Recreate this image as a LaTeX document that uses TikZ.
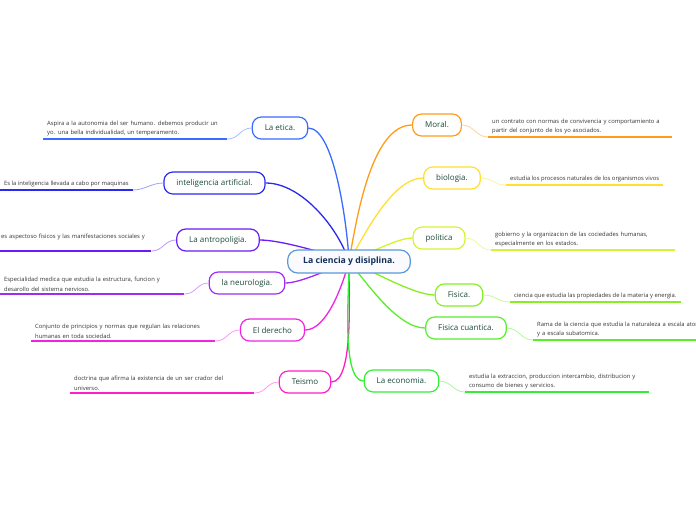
\documentclass[tikz,border=0pt]{standalone}
\usepackage{fontspec}
\setmainfont{Open Sans}
\usetikzlibrary{backgrounds}

\definecolor{topictext}{HTML}{1C4A3C}
\definecolor{desctext}{HTML}{333333}
\definecolor{centretext}{HTML}{12305A}
\definecolor{centreline}{HTML}{5A9AD6}
\definecolor{cetica}{HTML}{3A6CFF}
\definecolor{cia}{HTML}{2A2AEE}
\definecolor{cantro}{HTML}{6A1CF6}
\definecolor{cneuro}{HTML}{A02CF2}
\definecolor{cderecho}{HTML}{F024E0}
\definecolor{cteismo}{HTML}{FF1EC8}
\definecolor{cmoral}{HTML}{FF9C1A}
\definecolor{cbio}{HTML}{FFE030}
\definecolor{cpolitica}{HTML}{D6F236}
\definecolor{cfisica}{HTML}{86EE22}
\definecolor{ccuantica}{HTML}{58EE2A}
\definecolor{ceconomia}{HTML}{34EE34}

\tikzset{
  topic/.style={draw=#1, line width=1.2pt, rounded corners=9pt, fill=white,
    minimum height=22pt, inner xsep=12.5pt, text=topictext,
    font=\fontsize{8}{9}\selectfont},
  branch/.style={draw=#1, line width=1.3pt},
  twig/.style={draw=#1!45, line width=0.8pt},
  under/.style={draw=#1, line width=1.8pt},
  desc/.style={inner xsep=4pt, inner ysep=2.5pt, align=left, text=desctext,
    font=\fontsize{5.85}{9.4}\selectfont},
  longdesc/.style={desc, text width=176pt}
}

\begin{document}
\begin{tikzpicture}[x=1pt, y=1pt]
  \useasboundingbox (0,0) rectangle (696,-520);

  % central idea
  \node[draw=centreline, line width=1.2pt, rounded corners=10pt, fill=blue!2,
    minimum height=23pt, inner xsep=15.5pt, text=centretext,
    font=\fontsize{8.7}{10}\selectfont\bfseries] (ciencia) at (349,-261.5)
    {La ciencia y disiplina.};

  % left topics
  \node[topic=cetica] (etica) at (280,-128) {La etica.};
  \node[topic=cia] (ia) at (214.5,-183) {inteligencia artificial.};
  \node[topic=cantro] (antro) at (218,-240) {La antropoligia.};
  \node[topic=cneuro] (neuro) at (247,-283) {la neurologia.};
  \node[topic=cderecho] (derecho) at (272.5,-330) {El derecho};
  \node[topic=cteismo] (teismo) at (305,-382) {Teismo};

  % right topics
  \node[topic=cmoral] (moral) at (437,-125) {Moral.};
  \node[topic=cbio] (bio) at (452,-178) {biologia.};
  \node[topic=cpolitica] (politica) at (439,-238) {politica};
  \node[topic=cfisica] (fisica) at (459,-295) {Fisica.};
  \node[topic=ccuantica] (cuantica) at (466,-328) {Fisica cuantica.};
  \node[topic=ceconomia] (economia) at (401.5,-381) {La economia.};

  % notes
  \node[longdesc, anchor=south west] (etica-d) at (43,-139)
    {Aspira a la autonomia del ser humano. debemos producir un\\yo. una bella individualidad, un temperamento.};
  \node[desc, anchor=south west] (ia-d) at (0,-190)
    {Es la inteligencia llevada a cabo por maquinas};
  \node[desc, text width=146pt, anchor=south west] (antro-d) at (-3,-251)
    {es aspectoso fisicos y las manifestaciones sociales y\\\mbox{}};
  \node[longdesc, anchor=south west] (neuro-d) at (0,-294)
    {Especialidad medica que estudia la estructura, funcion y\\desarollo del sistema nervioso.};
  \node[longdesc, anchor=south west] (derecho-d) at (31,-341)
    {Conjunto de principios y normas que regulan las relaciones\\humanas en toda sociedad.};
  \node[longdesc, anchor=south west] (teismo-d) at (70,-393)
    {doctrina que afirma la existencia de un ser crador del\\universo.};
  \node[longdesc, anchor=south west] (moral-d) at (488,-137)
    {un contrato con normas de convivencia y comportamiento a\\partir del conjunto de los yo asociados.};
  \node[desc, anchor=south west] (bio-d) at (506,-185)
    {estudia los procesos naturales de los organismos vivos};
  \node[longdesc, anchor=south west] (politica-d) at (491,-250)
    {gobierno y la organizacion de las cociedades humanas,\\especialmente en los estados.};
  \node[desc, anchor=south west] (fisica-d) at (510,-302)
    {ciencia que estudia las propiedades de la materia y energia.};
  \node[longdesc, anchor=south west] (cuantica-d) at (533,-340)
    {Rama de la ciencia que estudia la naturaleza a escala atomica\\y a escala subatomica.};
  \node[longdesc, anchor=south west] (economia-d) at (465,-392)
    {estudia la extraccion, produccion intercambio, distribucion y\\consumo de bienes y servicios.};

  \begin{scope}[on background layer]
    % main branches
    \draw[branch=cetica] (ciencia.center) to[out=92, in=0, looseness=0.5] (etica.east);
    \draw[branch=cia] (ciencia.center) to[out=108, in=0, looseness=0.8] (ia.east);
    \draw[branch=cantro] (ciencia.center) to[out=160, in=0, looseness=0.6] (antro.east);
    \draw[branch=cneuro] (ciencia.center) to[out=200, in=0, looseness=0.6] (neuro.east);
    \draw[branch=cderecho] (ciencia.center) to[out=255, in=0, looseness=0.7] (derecho.east);
    \draw[branch=cteismo] (ciencia.center) to[out=268, in=0, looseness=0.5] (teismo.east);
    \draw[branch=cmoral] (ciencia.center) to[out=80, in=180, looseness=0.7] (moral.west);
    \draw[branch=cbio] (ciencia.center) to[out=60, in=180, looseness=0.7] (bio.west);
    \draw[branch=cpolitica] (ciencia.center) to[out=20, in=180, looseness=0.6] (politica.west);
    \draw[branch=cfisica] (ciencia.center) to[out=-20, in=180, looseness=0.6] (fisica.west);
    \draw[branch=ccuantica] (ciencia.center) to[out=-50, in=180, looseness=0.7] (cuantica.west);
    \draw[branch=ceconomia] (ciencia.center) to[out=-88, in=180, looseness=0.5] (economia.west);
  \end{scope}

  % twigs and underlines, left
  \foreach \t/\c in {etica/cetica, ia/cia, antro/cantro, neuro/cneuro,
      derecho/cderecho, teismo/cteismo} {
    \draw[twig=\c] (\t.west) .. controls +(-12,0) and +(12,0) .. (\t-d.south east);
    \draw[under=\c] (\t-d.south east) -- (\t-d.south west);
  }
  % twigs and underlines, right
  \foreach \t/\c in {moral/cmoral, bio/cbio, politica/cpolitica, fisica/cfisica,
      cuantica/ccuantica, economia/ceconomia} {
    \draw[twig=\c] (\t.east) .. controls +(12,0) and +(-12,0) .. (\t-d.south west);
    \draw[under=\c] (\t-d.south west) -- (\t-d.south east);
  }
\end{tikzpicture}
\end{document}
